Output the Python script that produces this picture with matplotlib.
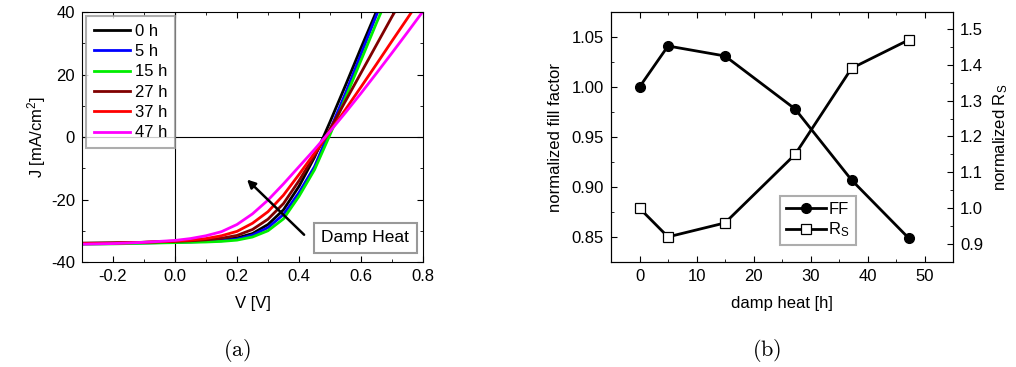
import numpy as np
import matplotlib.pyplot as plt
from matplotlib.ticker import MultipleLocator

plt.rcParams['font.family'] = ['Liberation Sans', 'DejaVu Sans']
plt.rcParams['mathtext.fontset'] = 'custom'
plt.rcParams['mathtext.rm'] = 'Liberation Sans'
plt.rcParams['mathtext.it'] = 'Liberation Sans:italic'
plt.rcParams['axes.unicode_minus'] = False
plt.rcParams['font.size'] = 12

# (a) J-V curves
voltage = [-0.3, -0.2, -0.1, 0.0, 0.05, 0.1, 0.15, 0.2, 0.25, 0.3, 0.35,
           0.4, 0.45, 0.5, 0.55, 0.6, 0.65, 0.7, 0.75, 0.8]
j_0h = [-34.0, -33.9, -33.7, -33.5, -33.4, -33.2, -32.9, -32.3, -30.9, -28.0,
        -23.3, -15.8, -6.5, 4.8, 16.5, 28.5, 40.2, 52.0, 64.0, 76.0]
j_5h = [-34.2, -34.1, -33.9, -33.7, -33.6, -33.4, -33.2, -32.7, -31.4, -29.0,
        -24.8, -17.8, -9.5, 2.2, 14.0, 26.5, 39.0, 51.0, 63.0, 75.0]
j_15h = [-34.3, -34.2, -34.0, -33.8, -33.7, -33.6, -33.4, -33.0, -32.0, -30.0,
         -26.2, -19.0, -10.5, 0.7, 12.5, 24.5, 36.5, 48.0, 60.0, 72.0]
j_27h = [-34.0, -33.9, -33.7, -33.4, -33.2, -32.9, -32.4, -31.5, -29.6, -26.3,
         -21.3, -14.0, -6.0, 2.5, 11.5, 20.5, 29.5, 38.5, 47.0, 56.0]
j_37h = [-34.1, -34.0, -33.7, -33.3, -33.0, -32.5, -31.6, -30.2, -27.6, -23.9,
         -18.6, -12.0, -5.2, 1.8, 8.8, 16.0, 23.3, 30.7, 38.0, 45.4]
j_47h = [-34.3, -34.1, -33.7, -33.1, -32.5, -31.6, -30.3, -28.0, -24.6, -20.2,
         -15.0, -9.5, -4.0, 1.8, 7.8, 14.0, 20.4, 26.9, 33.5, 40.2]
curve_labels = ['0 h', '5 h', '15 h', '27 h', '37 h', '47 h']
curve_colors = ['black', '#0000ff', '#00ee00', '#800000', '#ff0000', '#ff00ff']

# (b) normalized FF and Rs vs damp heat time
hours = [0, 5, 15, 27.3, 37.2, 47.2]
ff = [1.000, 1.041, 1.031, 0.978, 0.907, 0.849]
rs = [1.000, 0.920, 0.959, 1.150, 1.390, 1.469]

fig = plt.figure(figsize=(10.16, 3.67), dpi=100)

# ---- panel (a)
ax1 = fig.add_axes([0.0807, 0.2861, 0.3356, 0.6812])
curves = [j_0h, j_5h, j_15h, j_27h, j_37h, j_47h]
for j, lab, col in zip(curves, curve_labels, curve_colors):
    ax1.plot(voltage, j, color=col, lw=2, label=lab)
ax1.axhline(0, color='black', lw=0.8, zorder=0)
ax1.axvline(0, color='black', lw=0.8, zorder=0)
ax1.set_xlim(-0.3, 0.8)
ax1.set_ylim(-40, 40)
ax1.xaxis.set_minor_locator(MultipleLocator(0.1))
ax1.yaxis.set_major_locator(MultipleLocator(20))
ax1.yaxis.set_minor_locator(MultipleLocator(10))
ax1.set_xticks([-0.2, 0.0, 0.2, 0.4, 0.6, 0.8])
ax1.set_xticklabels(['-0.2', '0.0', '0.2', '0.4', '0.6', '0.8'])
ax1.set_xlabel('V [V]', labelpad=9)
ax1.set_ylabel('J [mA/cm$^2$]', labelpad=2)
leg = ax1.legend(loc='upper left', bbox_to_anchor=(0.0, 1.0), frameon=True,
                 fancybox=False, edgecolor='#999999', handlelength=2.2,
                 borderpad=0.45, labelspacing=0.32, handletextpad=0.3,
                 borderaxespad=0.25, fontsize=12)
leg.get_frame().set_linewidth(1.5)
ax1.annotate('', xy=(0.226, -13.0), xytext=(0.423, -31.9),
             arrowprops=dict(arrowstyle='-|>', color='black', lw=1.8,
                             mutation_scale=12))
ax1.text(0.614, -32.3, 'Damp Heat', ha='center', va='center', fontsize=12.5,
         bbox=dict(boxstyle='square,pad=0.45', fc='white', ec='#999999', lw=1.5))

# ---- panel (b)
ax2 = fig.add_axes([0.6014, 0.2861, 0.3366, 0.6812])
l1, = ax2.plot(hours, ff, '-o', color='black', lw=2, ms=7, label='FF')
ax2.set_xlim(-5, 55)
ax2.set_ylim(0.825, 1.075)
ax2.xaxis.set_major_locator(MultipleLocator(10))
ax2.xaxis.set_minor_locator(MultipleLocator(5))
ax2.yaxis.set_major_locator(MultipleLocator(0.05))
ax2.yaxis.set_minor_locator(MultipleLocator(0.025))
ax2.yaxis.set_major_formatter(plt.FormatStrFormatter('%.2f'))
ax2.set_xlabel('damp heat [h]', labelpad=9)
ax2.set_ylabel('normalized fill factor', labelpad=6)

ax3 = ax2.twinx()
l2, = ax3.plot(hours, rs, '-s', color='black', lw=2, ms=6.5, mfc='white',
               mec='black', mew=0.9, label='R$_\\mathregular{S}$')
ax3.set_ylim(0.85, 1.547)
ax3.yaxis.set_major_locator(MultipleLocator(0.1))
ax3.yaxis.set_minor_locator(MultipleLocator(0.05))
ax3.yaxis.set_major_formatter(plt.FormatStrFormatter('%.1f'))
ax3.set_ylabel('normalized R$_\\mathregular{S}$', labelpad=6)
leg2 = ax2.legend([l1, l2], ['FF', 'R$_\\mathregular{S}$'], loc='lower left',
                  bbox_to_anchor=(0.47, 0.035), frameon=True, fancybox=False,
                  edgecolor='#999999', handlelength=2.4, borderpad=0.35,
                  labelspacing=0.2, handletextpad=0.15, fontsize=12)
leg2.get_frame().set_linewidth(1.5)

for ax in (ax1, ax2):
    ax.tick_params(which='both', direction='in', top=True, labelsize=12)
    ax.tick_params(which='major', length=4, pad=5)
    ax.tick_params(which='minor', length=2.5)
ax1.tick_params(which='both', right=True)
ax2.tick_params(which='both', right=False)
ax3.tick_params(which='both', direction='in', labelsize=12)
ax3.tick_params(which='major', length=4, pad=5)
ax3.tick_params(which='minor', length=2.5)
for ax in (ax1, ax2, ax3):
    ax.xaxis.label.set_size(12)
    ax.yaxis.label.set_size(12)

fig.text(0.233, 0.046, r'$\mathrm{(a)}$', ha='center', va='center',
         fontsize=16, math_fontfamily='cm')
fig.text(0.755, 0.046, r'$\mathrm{(b)}$', ha='center', va='center',
         fontsize=16, math_fontfamily='cm')

fig.savefig('out.png', dpi=100)
